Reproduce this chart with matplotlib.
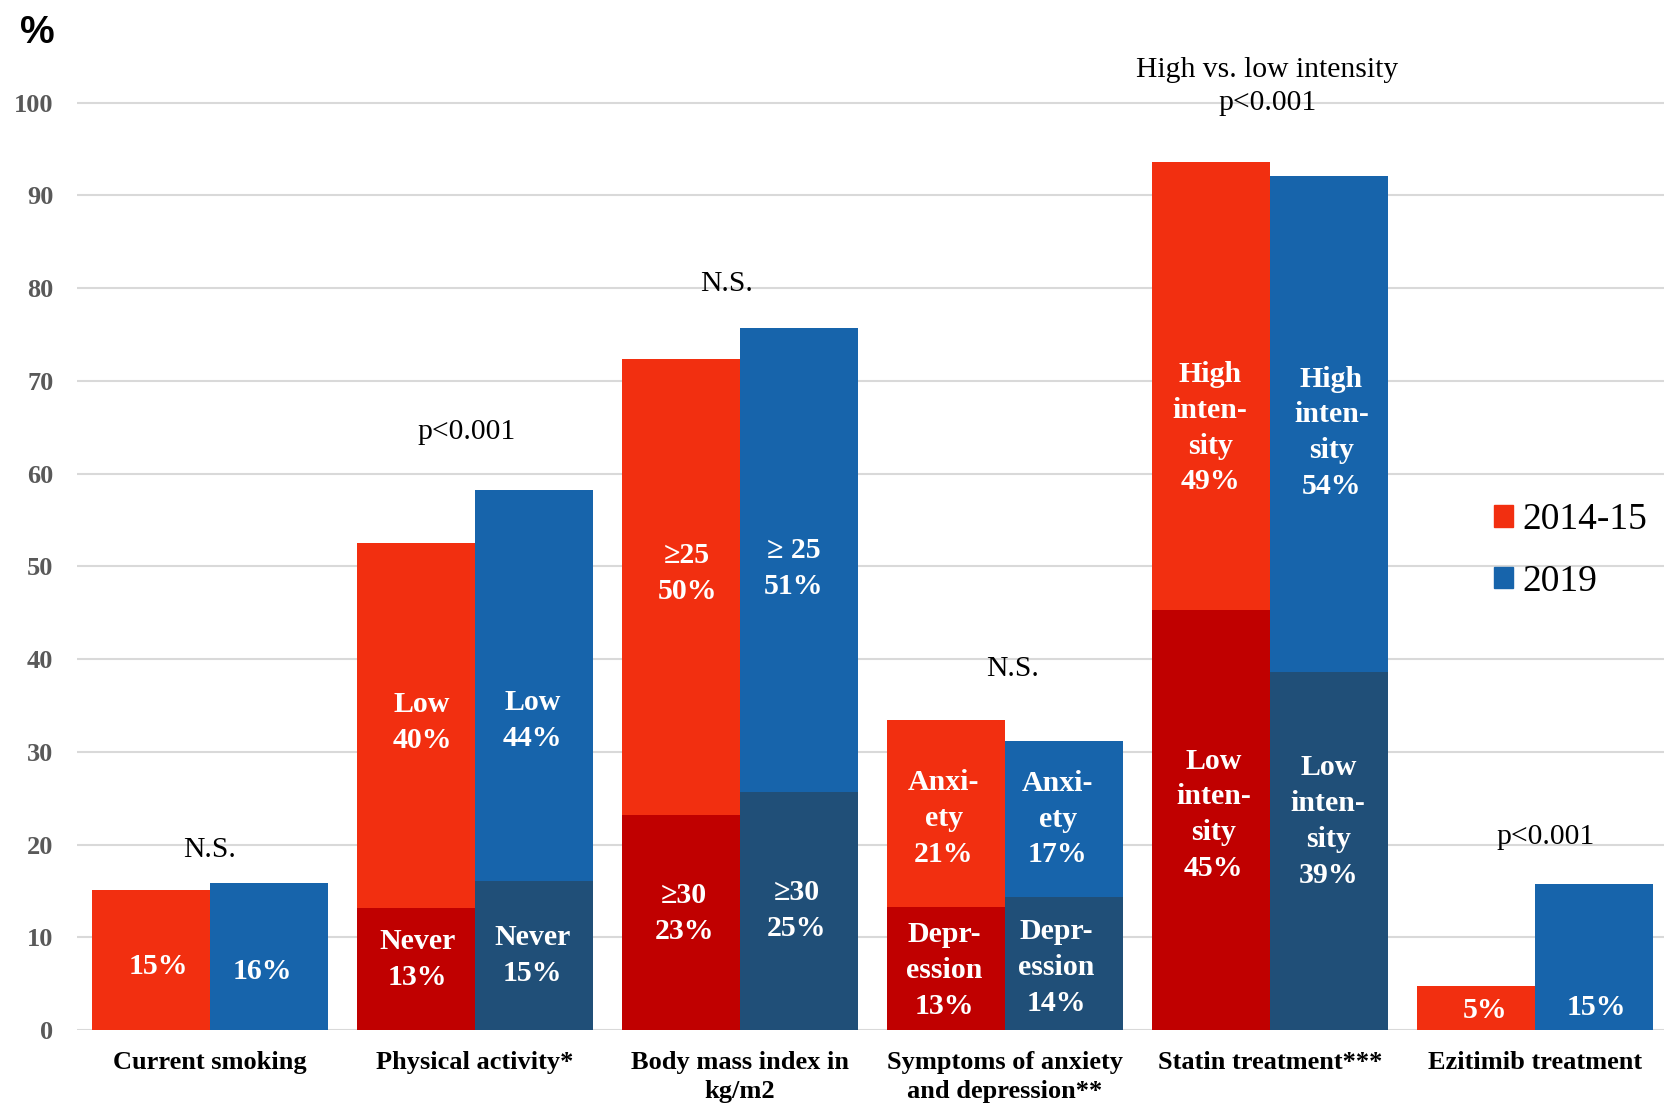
import matplotlib
matplotlib.use("Agg")
import matplotlib.pyplot as plt
from matplotlib.patches import Patch
import numpy as np

plt.rcParams['font.family'] = ['Liberation Serif', 'DejaVu Serif']

# ---------------- data ----------------
categories = ["Current smoking", "Physical activity*", "Body mass index in\nkg/m2",
              "Symptoms of anxiety\nand depression**", "Statin treatment***", "Ezitimib treatment"]
series = ["2014-15", "2019"]

lower_2014 = [15.1, 13.2, 23.2, 13.3, 45.3, 4.7]
upper_2014 = [0.0, 39.3, 49.2, 20.1, 48.3, 0.0]
lower_2019 = [15.9, 16.1, 25.7, 14.3, 38.6, 15.7]
upper_2019 = [0.0, 42.1, 50.0, 16.9, 53.5, 0.0]

lower_labels_2014 = ["15%", "Never\n13%", "≥30\n23%", "Depr-\nession\n13%", "Low\ninten-\nsity\n45%", "5%"]
upper_labels_2014 = ["", "Low\n40%", "≥25\n50%", "Anxi-\nety\n21%", "High\ninten-\nsity\n49%", ""]
lower_labels_2019 = ["16%", "Never\n15%", "≥30\n25%", "Depr-\nession\n14%", "Low\ninten-\nsity\n39%", "15%"]
upper_labels_2019 = ["", "Low\n44%", "≥ 25\n51%", "Anxi-\nety\n17%", "High\ninten-\nsity\n54%", ""]

annotations = ["N.S.", "p<0.001", "N.S.", "N.S.", "High vs. low intensity\np<0.001", "p<0.001"]
annotation_y = [19.4, 64.5, 80.5, 38.9, 101.8, 20.8]

# ---------------- style ----------------
RED = "#F22F10"
DARK_RED = "#C00000"
BLUE = "#1764AB"
DARK_BLUE = "#204F78"
GRID = "#D9D9D9"

fig = plt.figure(figsize=(16.65, 11.07), dpi=100)
ax = fig.add_axes([77 / 1665, 1 - 1030 / 1107, 1591 / 1665, 1020 / 1107])

x = np.arange(len(categories))
w = 0.445

def seg_colors(upper, bright, dark):
    return [dark if u > 0 else bright for u in upper]

ax.bar(x - w / 2, lower_2014, w, color=seg_colors(upper_2014, RED, DARK_RED), zorder=2)
ax.bar(x - w / 2, upper_2014, w, bottom=lower_2014, color=RED, zorder=2)
ax.bar(x + w / 2, lower_2019, w, color=seg_colors(upper_2019, BLUE, DARK_BLUE), zorder=2)
ax.bar(x + w / 2, upper_2019, w, bottom=lower_2019, color=BLUE, zorder=2)

label_kw = dict(ha="center", va="center", color="white", fontsize=21.5,
                fontweight="bold", linespacing=1.42, zorder=3)

# label offsets relative to segment centres (y in data units, x in category units)
low_off = [-0.65, 1.0, 1.0, -0.25, 0.55, -0.25]
up_off = [0, 0.35, 1.4, -0.55, -4.55, 0]
low_off_b = [-1.65, 0.0, 0.0, -0.4, 3.2, -5.45]
up_off_b = [0, -3.75, -0.9, 0.0, -0.95, 0]
low_dx = [0.028, 0.008, 0.012, -0.008, 0.008, 0.032]
up_dx = [0, 0.024, 0.024, -0.008, -0.004, 0]
low_dx_b = [-0.024, -0.004, -0.008, -0.028, -0.004, 0.008]
up_dx_b = [0, -0.004, -0.02, -0.024, 0.008, 0]

for i in range(len(categories)):
    ax.text(x[i] - w / 2 + low_dx[i], lower_2014[i] / 2 + low_off[i], lower_labels_2014[i], **label_kw)
    if upper_2014[i] > 0:
        ax.text(x[i] - w / 2 + up_dx[i], lower_2014[i] + upper_2014[i] / 2 + up_off[i],
                upper_labels_2014[i], **label_kw)
    ax.text(x[i] + w / 2 + low_dx_b[i], lower_2019[i] / 2 + low_off_b[i], lower_labels_2019[i], **label_kw)
    if upper_2019[i] > 0:
        ax.text(x[i] + w / 2 + up_dx_b[i], lower_2019[i] + upper_2019[i] / 2 + up_off_b[i],
                upper_labels_2019[i], **label_kw)

ann_dx = [0, -0.03, -0.05, 0.03, -0.01, 0.04]
for i, (t, yv) in enumerate(zip(annotations, annotation_y)):
    ax.text(x[i] + ann_dx[i], yv, t, ha="center", va="center", fontsize=21.3,
            color="black", linespacing=1.35, clip_on=False)

ax.set_xlim(-0.5, len(categories) - 0.5)
ax.set_ylim(0, 110)
ax.set_yticks(range(0, 101, 10))
ax.set_xticks(x)
ax.set_xticklabels(categories, fontsize=19, fontweight="bold", linespacing=1.35)
for lab in ax.get_yticklabels():
    lab.set_fontweight("bold")
ax.tick_params(axis="y", length=0, pad=17, labelsize=19, labelcolor="#595959")
ax.tick_params(axis="x", length=0, pad=15)
ax.yaxis.grid(True, color=GRID, linewidth=1.5)
ax.set_axisbelow(True)
for s in ax.spines.values():
    s.set_visible(False)

ax.legend(handles=[Patch(color=RED), Patch(color=BLUE)], labels=series,
          loc="upper left", bbox_to_anchor=(0.8906, 0.5167), frameon=False,
          fontsize=27, handlelength=0.51, handleheight=0.51, handletextpad=0.25,
          labelspacing=0.72, borderpad=0, borderaxespad=0)

fig.text(20 / 1665, 1 - 43 / 1107, "%", fontsize=28, fontweight="bold",
         family=["Liberation Sans", "DejaVu Sans"], ha="left", va="baseline")

fig.savefig("out.png", dpi=100)
